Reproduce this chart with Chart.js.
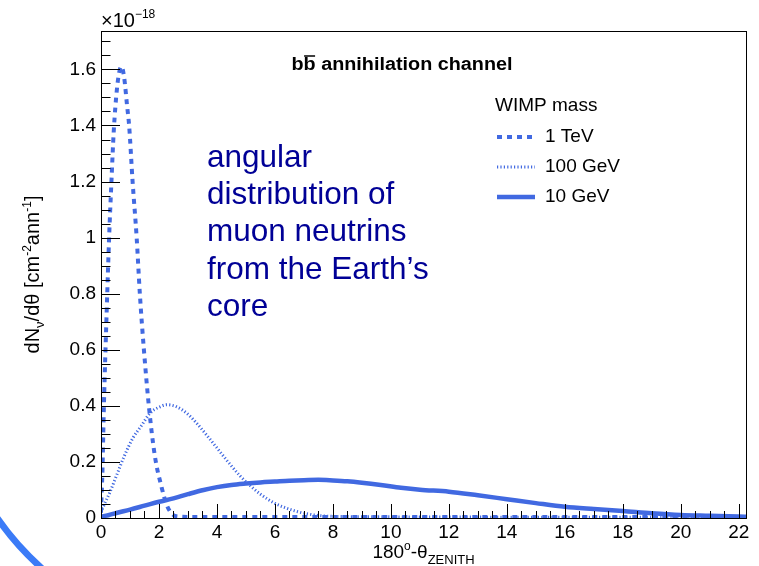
<!DOCTYPE html>
<html lang="en">
<head>
<meta charset="UTF-8" />
<title>Angular distribution of muon neutrinos</title>
<script src="https://cdn.jsdelivr.net/npm/chart.js"></script>
<style>
  html, body { margin: 0; padding: 0; background: #fff; overflow: hidden; }
  #wrap { position: relative; width: 759px; height: 566px; }
  canvas { display: block; }
</style>
</head>
<body>
<div id="wrap"><canvas id="nuChart" width="759" height="566"></canvas></div>
<script>
// 180° - theta_zenith in degrees, dN/dtheta in units of 1e-18 cm^-2 ann^-1
const xTeV = [0, 0.05, 0.1, 0.2, 0.28, 0.36, 0.44, 0.55, 0.65, 0.71, 0.8, 0.9, 0.97, 1.09, 1.23, 1.34, 1.48, 1.66, 1.86, 2.09, 2.27, 2.45, 2.6, 3, 5, 10, 15, 20, 22.3];
const yTeV = [0.02, 0.17, 0.4, 0.75, 1.0, 1.2, 1.38, 1.53, 1.6, 1.61, 1.57, 1.47, 1.4, 1.2, 1.0, 0.8, 0.6, 0.39, 0.22, 0.11, 0.046, 0.015, 0.006, 0.004, 0.004, 0.004, 0.004, 0.004, 0.004];

const x100GeV = [0, 0.1, 0.3, 0.55, 0.8, 1.1, 1.4, 1.7, 2.0, 2.27, 2.6, 3.0, 3.3, 3.65, 4.0, 4.4, 4.8, 5.15, 5.5, 6.0, 6.4, 6.8, 7.1, 7.6, 8.5, 10, 15, 22.3];
const y100GeV = [0.02, 0.045, 0.09, 0.155, 0.22, 0.285, 0.33, 0.375, 0.395, 0.404, 0.397, 0.37, 0.338, 0.295, 0.25, 0.198, 0.15, 0.115, 0.085, 0.052, 0.035, 0.022, 0.015, 0.008, 0.005, 0.004, 0.003, 0.003];

const x10GeV = [0, 0.25, 0.53, 1.0, 1.5, 2.0, 2.5, 3.0, 3.5, 4.0, 4.5, 5.0, 5.5, 6.0, 6.5, 7.0, 7.5, 8.0, 8.5, 9.0, 9.65, 10.35, 11, 12, 13, 14, 15, 16, 17, 18, 19, 20, 21, 22, 22.3];
const y10GeV = [0.005, 0.01, 0.018, 0.03, 0.044, 0.058, 0.07, 0.085, 0.099, 0.11, 0.118, 0.123, 0.127, 0.13, 0.133, 0.135, 0.136, 0.134, 0.131, 0.126, 0.118, 0.108, 0.101, 0.094, 0.081, 0.067, 0.053, 0.04, 0.032, 0.025, 0.017, 0.011, 0.008, 0.005, 0.004];

const seriesLabels = ['1 TeV', '100 GeV', '10 GeV'];
const xTickValues = [0, 2, 4, 6, 8, 10, 12, 14, 16, 18, 20, 22];
const yTickValues = [0, 0.2, 0.4, 0.6, 0.8, 1, 1.2, 1.4, 1.6];
const noteLines = ['angular', 'distribution of', 'muon neutrins', 'from the Earth\u2019s', 'core'];

const FONT = "'Liberation Sans', Arial, Helvetica, sans-serif";
const BLUE = '#4169e1';

Chart.defaults.font.family = FONT;
Chart.defaults.color = '#000';

function toPoints(xs, ys) {
  return xs.map((x, i) => ({ x: x, y: ys[i] }));
}

// draws a run of text pieces [text, size, dy, bold] starting at x, returns end x
function drawPieces(ctx, pieces, x, y) {
  pieces.forEach(p => {
    ctx.font = (p[3] ? 'bold ' : '') + p[1] + 'px ' + FONT;
    ctx.fillText(p[0], x, y + p[2]);
    x += ctx.measureText(p[0]).width;
  });
  return x;
}

function piecesWidth(ctx, pieces) {
  let w = 0;
  pieces.forEach(p => {
    ctx.font = (p[3] ? 'bold ' : '') + p[1] + 'px ' + FONT;
    w += ctx.measureText(p[0]).width;
  });
  return w;
}

// ROOT-like frame: box, inward ticks, titles, legend and the side note
const rootFrame = {
  id: 'rootFrame',
  beforeDraw(chart) {
    const ctx = chart.ctx;
    ctx.save();
    ctx.strokeStyle = '#3b7bf7';
    ctx.lineWidth = 6.5;
    ctx.beginPath();
    ctx.arc(235, 352, 290, 2.2, 2.62);
    ctx.stroke();
    ctx.restore();
  },
  afterDatasetsDraw(chart) {
    const ctx = chart.ctx;
    const a = chart.chartArea;
    const xs = chart.scales.x;
    const ys = chart.scales.y;
    ctx.save();

    // frame
    ctx.strokeStyle = '#000';
    ctx.lineWidth = 1;
    ctx.strokeRect(a.left + 0.5, a.top + 0.5, a.right - a.left, a.bottom - a.top);

    // y ticks (every 0.05, major every 0.2)
    ctx.beginPath();
    for (let i = 0; i * 0.05 <= ys.max + 1e-9; i++) {
      const py = Math.round(ys.getPixelForValue(i * 0.05)) + 0.5;
      const len = i % 4 === 0 ? 19 : 9.5;
      ctx.moveTo(a.left, py);
      ctx.lineTo(a.left + len, py);
    }
    // x ticks (every 0.5, major every 2)
    for (let i = 0; i * 0.5 <= xs.max + 1e-9; i++) {
      const px = Math.round(xs.getPixelForValue(i * 0.5)) + 0.5;
      const len = i % 4 === 0 ? 14 : 7;
      ctx.moveTo(px, a.bottom);
      ctx.lineTo(px, a.bottom - len);
    }
    ctx.stroke();

    ctx.fillStyle = '#000';
    ctx.textBaseline = 'alphabetic';
    ctx.textAlign = 'left';

    // exponent above the y axis
    drawPieces(ctx, [['\u00d710', 20, 0], ['\u221218', 12, -9]], a.left, 27);

    // x axis title
    const xTitle = [['180', 19, 0], ['o', 12, -8], ['-\u03b8', 19, 0], ['ZENITH', 13, 6]];
    const xw = piecesWidth(ctx, xTitle);
    drawPieces(ctx, xTitle, (a.left + a.right) / 2 - xw / 2, 558);

    // y axis title, rotated
    const yTitle = [['dN', 20, 0], ['\u03bd', 13, 5], ['/d\u03b8 [cm', 20, 0], ['-2', 12, -8], ['ann', 20, 0], ['-1', 12, -8], [']', 20, 0]];
    const yw = piecesWidth(ctx, yTitle);
    ctx.save();
    ctx.translate(39, (a.top + a.bottom) / 2 + yw / 2);
    ctx.rotate(-Math.PI / 2);
    drawPieces(ctx, yTitle, 0, 0);
    ctx.restore();

    // channel title with b-bar
    const tParts = [['b', 18, 0, true], ['b', 18, 0, true], [' annihilation channel', 18, 0, true]];
    ctx.save();
    ctx.translate(402, 0);
    ctx.scale(1.1, 1);
    const tw = piecesWidth(ctx, tParts);
    const tx = -tw / 2;
    ctx.font = 'bold 18px ' + FONT;
    const bw = ctx.measureText('b').width;
    drawPieces(ctx, tParts, tx, 70);
    ctx.lineWidth = 1.5;
    ctx.beginPath();
    ctx.moveTo(tx + bw + 0.5, 56);
    ctx.lineTo(tx + 2 * bw - 0.5, 56);
    ctx.stroke();
    ctx.restore();

    // legend
    ctx.font = '19px ' + FONT;
    ctx.textBaseline = 'middle';
    ctx.fillText('WIMP mass', 495, 106);
    chart.data.datasets.forEach((ds, i) => {
      const ly = 137 + i * 30;
      ctx.save();
      ctx.strokeStyle = ds.borderColor;
      ctx.lineWidth = ds.borderWidth;
      ctx.setLineDash(ds.borderDash || []);
      ctx.beginPath();
      ctx.moveTo(497, ly);
      ctx.lineTo(535, ly);
      ctx.stroke();
      ctx.restore();
      ctx.fillText(ds.label, 545, ly);
    });

    // side note
    ctx.textBaseline = 'alphabetic';
    ctx.fillStyle = '#000096';
    ctx.font = '31.5px ' + FONT;
    noteLines.forEach((line, i) => {
      ctx.fillText(line, 207, 167 + i * 37.2);
    });

    ctx.restore();
  }
};

new Chart(document.getElementById('nuChart'), {
  type: 'line',
  data: {
    datasets: [
      {
        label: seriesLabels[0],
        data: toPoints(xTeV, yTeV),
        borderColor: BLUE,
        borderWidth: 4,
        borderDash: [5, 5]
      },
      {
        label: seriesLabels[1],
        data: toPoints(x100GeV, y100GeV),
        borderColor: BLUE,
        borderWidth: 3,
        borderDash: [1.2, 2.2]
      },
      {
        label: seriesLabels[2],
        data: toPoints(x10GeV, y10GeV),
        borderColor: BLUE,
        borderWidth: 4.5
      }
    ]
  },
  options: {
    responsive: false,
    animation: false,
    elements: { point: { radius: 0 }, line: { cubicInterpolationMode: 'monotone', fill: false } },
    layout: { padding: { left: 0, top: 31, right: 13, bottom: 0 } },
    plugins: { legend: { display: false }, tooltip: { enabled: false } },
    scales: {
      x: {
        type: 'linear',
        min: 0,
        max: 22.25,
        grid: { display: false, drawTicks: false },
        border: { display: false },
        afterBuildTicks: s => { s.ticks = xTickValues.map(v => ({ value: v })); },
        afterFit: s => { s.height = 48; },
        ticks: { autoSkip: false, maxRotation: 0, padding: 3, font: { size: 19 }, callback: v => String(v) }
      },
      y: {
        type: 'linear',
        min: 0,
        max: 1.737,
        grid: { display: false, drawTicks: false },
        border: { display: false },
        afterBuildTicks: s => { s.ticks = yTickValues.map(v => ({ value: v })); },
        afterFit: s => { s.width = 101; },
        ticks: { autoSkip: false, padding: 5, font: { size: 19 }, callback: v => String(v) }
      }
    }
  },
  plugins: [rootFrame]
});
</script>
</body>
</html>
